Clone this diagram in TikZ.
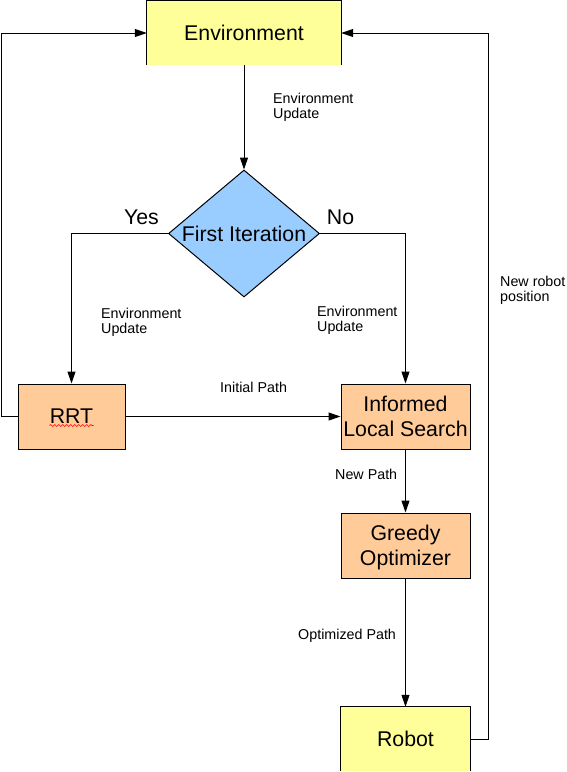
\documentclass[tikz,border=0pt]{standalone}
\usepackage{fontspec}
\setmainfont{Liberation Sans}
\usetikzlibrary{shapes.geometric,arrows.meta,decorations.pathmorphing}
\definecolor{yfill}{RGB}{255,255,153}
\definecolor{bfill}{RGB}{153,204,255}
\definecolor{ofill}{RGB}{255,204,153}
\tikzset{
  big/.style={font=\fontsize{21.3}{24.5}\selectfont},
  small/.style={font=\fontsize{14.3}{15}\selectfont, inner sep=0pt, anchor=north west, align=left},
  ybox/.style={big, fill=yfill, draw=none, rectangle, inner sep=0pt, minimum width=194pt, minimum height=64pt},
  obox/.style={big, fill=ofill, draw=black, line width=1pt, rectangle, inner sep=0pt, minimum height=65pt, align=center, text depth=0pt},
  dia/.style={big, diamond, fill=bfill, draw=black, line width=1pt, inner sep=0pt, minimum width=151pt, minimum height=127pt},
  arr/.style={line width=1pt, -{Triangle[length=12pt,width=8pt]}},
  ln/.style={line width=1pt},
  lbl/.style={big, inner sep=0pt}
}
\begin{document}
\begin{tikzpicture}[x=1pt,y=-1pt]
\useasboundingbox (0,0) rectangle (566,772);
\clip (0,0) rectangle (566,772);
% nodes
\node[ybox] (env) at (244,33) {Environment};
\draw[ln] (env.south west) -- (env.north west) -- (env.north east) -- (env.south east);
\node[dia] (dia) at (244,233.5) {\makebox[0pt]{First Iteration}};
\node[obox, minimum width=107pt] (rrt) at (71.5,416.5) {RRT};
\draw[red, line width=0.6pt, decorate, decoration={snake, amplitude=1pt, segment length=4pt}]
  ([xshift=-22pt,yshift=-9pt]rrt.center) -- ([xshift=22pt,yshift=-9pt]rrt.center);
\node[obox, minimum width=129pt] (ils) at (405.5,416.5) {Informed\\Local Search};
\node[obox, minimum width=129pt] (grd) at (405.5,545.5) {Greedy\\Optimizer};
\node[ybox, minimum width=129pt] (rob) at (405.5,739) {Robot};
\draw[ln] (rob.south west) -- (rob.north west) -- (rob.north east) -- (rob.south east);
% connectors
\draw[arr] (env.south) -- (dia.north);
\draw[arr] (dia.west) -| (rrt.north);
\draw[arr] (dia.east) -| (ils.north);
\draw[arr] (rrt.east) -- (ils.west);
\draw[arr] (ils.south) -- (grd.north);
\draw[arr] (grd.south) -- (rob.north);
\draw[arr] (rrt.west) -- ++(-16,0) |- (env.west);
\draw[arr] (rob.east) -- ++(18,0) |- (env.east);
% labels
\node[lbl] (yes) at (141.5,217) {Yes};
\node[lbl] (no) at (340.5,217) {No};
\node[small] (l1) at (273,93) {Environment\\Update};
\node[small] (l2) at (101,308) {Environment\\Update};
\node[small] (l3) at (317,306) {Environment\\Update};
\node[small] (l4) at (500,276) {New robot\\position};
\node[small] (l5) at (220,382) {Initial Path};
\node[small] (l6) at (335,469) {New Path};
\node[small] (l7) at (298,629) {Optimized Path};
\end{tikzpicture}
\end{document}
